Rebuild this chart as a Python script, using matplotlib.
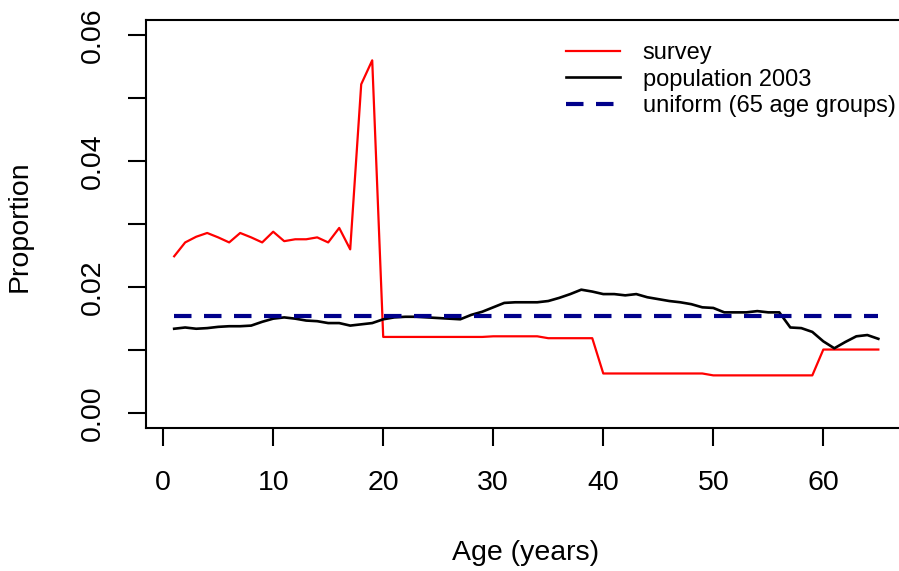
import matplotlib
matplotlib.use("Agg")
import matplotlib.pyplot as plt

plt.rcParams['font.family'] = ['Liberation Sans', 'DejaVu Sans']

# age groups 1..65
ages = list(range(1, 66))

# share of respondents per age (survey)
survey = [0.0249, 0.0271, 0.0280, 0.0286, 0.0279, 0.0271, 0.0286, 0.0279, 0.0271, 0.0288,
          0.0273, 0.0276, 0.0276, 0.0279, 0.0271, 0.0294, 0.0260, 0.0522, 0.0560, 0.0121,
          0.0121, 0.0121, 0.0121, 0.0121, 0.0121, 0.0121, 0.0121, 0.0121, 0.0121, 0.0122,
          0.0122, 0.0122, 0.0122, 0.0122, 0.0119, 0.0119, 0.0119, 0.0119, 0.0119, 0.0063,
          0.0063, 0.0063, 0.0063, 0.0063, 0.0063, 0.0063, 0.0063, 0.0063, 0.0063, 0.0060,
          0.0060, 0.0060, 0.0060, 0.0060, 0.0060, 0.0060, 0.0060, 0.0060, 0.0060, 0.0101,
          0.0101, 0.0101, 0.0101, 0.0101, 0.0101]

# share of population per age, 2003
population = [0.0134, 0.0136, 0.0134, 0.0135, 0.0137, 0.0138, 0.0138, 0.0139, 0.0145, 0.0150,
              0.0152, 0.0150, 0.0147, 0.0146, 0.0143, 0.0143, 0.0139, 0.0141, 0.0143, 0.0149,
              0.0152, 0.0153, 0.0153, 0.0152, 0.0151, 0.0150, 0.0149, 0.0156, 0.0161, 0.0168,
              0.0175, 0.0176, 0.0176, 0.0176, 0.0178, 0.0183, 0.0189, 0.0196, 0.0193, 0.0189,
              0.0189, 0.0187, 0.0189, 0.0184, 0.0181, 0.0178, 0.0176, 0.0173, 0.0168, 0.0167,
              0.0160, 0.0160, 0.0160, 0.0162, 0.0160, 0.0160, 0.0136, 0.0135, 0.0129, 0.0114,
              0.0103, 0.0113, 0.0122, 0.0124, 0.0118]

uniform_share = 0.01538  # 1/65

fig = plt.figure(figsize=(8.99, 5.71), dpi=100)
ax = fig.add_axes([146 / 899, 1 - 428.3 / 571, (906.5 - 146) / 899, (428.3 - 20) / 571])

ax.plot(ages, survey, color='#FF0000', lw=1.6, label='survey')
ax.plot(ages, population, color='black', lw=1.9, label='population 2003')
ax.plot([ages[0], ages[-1]], [uniform_share, uniform_share], color='#00008B', lw=3,
        linestyle=(0, (4.2, 3.0)), dash_capstyle='butt', label='uniform (65 age groups)')

ax.set_xlim(-1.56, 67.56)
ax.set_ylim(-0.0024, 0.0624)
ax.set_xticks([0, 10, 20, 30, 40, 50, 60])
ax.set_yticks([0.00, 0.01, 0.02, 0.03, 0.04, 0.05, 0.06])
ax.set_yticklabels(['0.00', '', '0.02', '', '0.04', '', '0.06'], rotation=90, va='center')

for s in ax.spines.values():
    s.set_linewidth(1.5)
ax.tick_params(direction='out', length=13, width=1.5, labelsize=20.5)
ax.tick_params(axis='x', pad=17)
ax.tick_params(axis='y', pad=16)

fig.text(526 / 899, 1 - 553 / 571, 'Age (years)', ha='center', va='center', fontsize=20.5)
fig.text(20 / 899, 1 - 226 / 571, 'Proportion', ha='center', va='center', rotation=90, fontsize=20.5)

ax.legend(loc='upper left', bbox_to_anchor=(566 / 899, 1 - 42 / 571), bbox_transform=fig.transFigure,
          frameon=False, fontsize=17, handlelength=2.3, handletextpad=0.95, labelspacing=0.2,
          borderpad=0, borderaxespad=0)

fig.savefig('out.png', dpi=100)
